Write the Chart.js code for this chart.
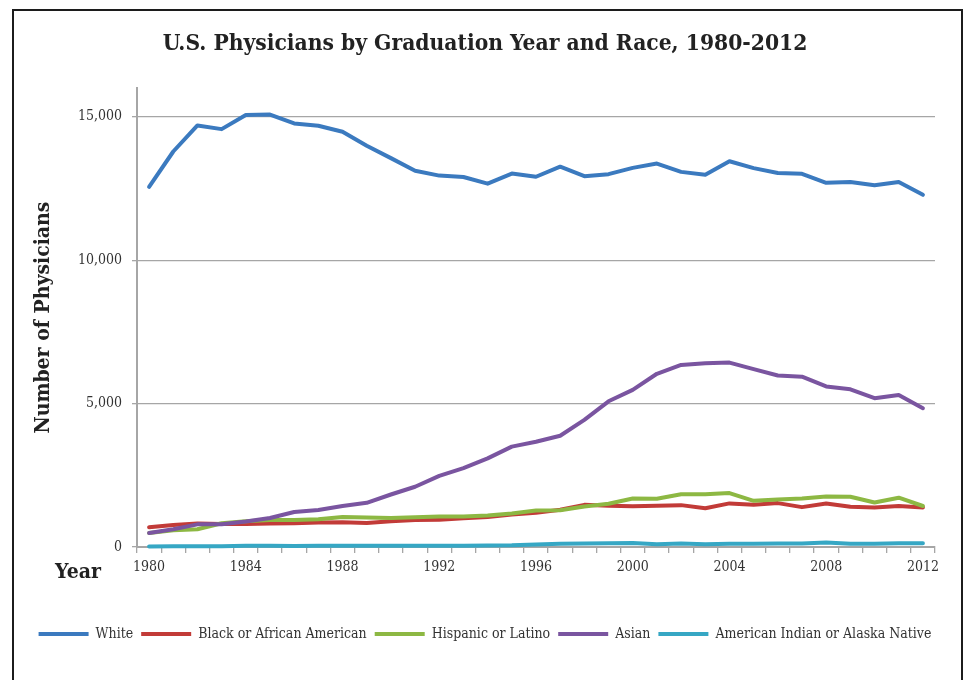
<!DOCTYPE html>
<html>
<head>
<meta charset="utf-8">
<script src="https://cdn.jsdelivr.net/npm/chart.js@4.4.0/dist/chart.umd.min.js"></script>
<style>
html,body{margin:0;padding:0;background:#fff;}
#wrap{position:relative;width:964px;height:680px;overflow:hidden;background:#fff;}
#frame{position:absolute;left:12px;top:9px;width:947px;height:720px;border:2px solid #1c1c1c;pointer-events:none;}
canvas{position:absolute;left:0;top:0;}
</style>
</head>
<body>
<div id="wrap"><canvas id="c" style="width:964px;height:680px"></canvas><div id="frame"></div></div>
<script>
const years = [1980,1981,1982,1983,1984,1985,1986,1987,1988,1989,1990,1991,1992,1993,1994,1995,1996,1997,1998,1999,2000,2001,2002,2003,2004,2005,2006,2007,2008,2009,2010,2011,2012];
const seriesNames = ['White','Black or African American','Hispanic or Latino','Asian','American Indian or Alaska Native'];
const white    = [12560,13790,14700,14570,15060,15080,14770,14690,14480,13990,13560,13120,12950,12900,12670,13020,12910,13260,12930,13000,13220,13370,13080,12980,13450,13210,13040,13010,12700,12730,12610,12730,12280];
const black    = [690,770,820,800,800,820,830,850,860,840,900,940,950,1000,1050,1130,1190,1300,1470,1440,1420,1440,1460,1350,1520,1470,1530,1390,1520,1400,1380,1430,1380];
const hispanic = [490,580,620,830,900,940,940,970,1050,1030,1010,1040,1060,1060,1100,1170,1270,1280,1410,1510,1690,1680,1840,1840,1880,1610,1660,1690,1760,1750,1550,1720,1430];
const asian    = [490,620,790,790,890,1010,1220,1290,1430,1540,1830,2100,2480,2750,3090,3500,3670,3880,4430,5080,5480,6040,6350,6410,6430,6200,5980,5940,5600,5500,5190,5300,4840];
const aian     = [20,30,30,30,40,40,35,40,40,40,40,40,45,45,50,60,90,110,120,130,140,100,120,100,110,110,120,120,160,110,110,130,130];
const yTicks = [0,5000,10000,15000];
const colors = ['#3b7abf','#c23b38','#8db843','#7a55a0','#36a7c4'];

const FONT = '"DejaVu Serif Condensed", "Liberation Serif", serif';
const GRID = '#a6a6a6';

const yearLabel = {
  id: 'yearLabel',
  afterDraw(chart) {
    const {ctx, chartArea} = chart;
    ctx.save();
    ctx.font = 'bold 21px ' + FONT;
    ctx.fillStyle = '#222';
    ctx.textAlign = 'left';
    ctx.textBaseline = 'middle';
    ctx.fillText('Year', chartArea.left - 82, chartArea.bottom + 26);
    ctx.restore();
  }
};

const allSeries = [white, black, hispanic, asian, aian];
const datasets = allSeries.map((d, i) => ({
  label: seriesNames[i],
  data: d,
  borderColor: colors[i],
  backgroundColor: colors[i],
  borderWidth: 4,
  borderCapStyle: 'round',
  borderJoinStyle: 'round',
  pointRadius: 0,
  pointHoverRadius: 0,
  tension: 0,
  fill: false,
  clip: false,
  order: allSeries.length - i
}));

new Chart(document.getElementById('c'), {
  type: 'line',
  data: { labels: years.map(String), datasets },
  options: {
    responsive: false,
    animation: false,
    devicePixelRatio: 1,
    layout: { padding: { left: 6, right: 0, top: 0, bottom: 29 } },
    plugins: {
      title: {
        display: true,
        text: 'U.S. Physicians by Graduation Year and Race, 1980-2012',
        color: '#222',
        font: { family: FONT, size: 22.6, weight: 'bold' },
        padding: { top: 31, bottom: 30 }
      },
      legend: {
        position: 'bottom',
        labels: {
          usePointStyle: true,
          pointStyle: 'line',
          pointStyleWidth: 50,
          boxHeight: 14,
          color: '#333',
          font: { family: FONT, size: 14 },
          padding: 8,
          sort: (a, b) => a.datasetIndex - b.datasetIndex
        }
      },
      tooltip: { enabled: false }
    },
    scales: {
      x: {
        offset: true,
        grid: { drawOnChartArea: false, offset: true, tickLength: 6, color: GRID, lineWidth: 1.3 },
        border: { color: GRID, width: 2 },
        ticks: {
          autoSkip: false, maxRotation: 0, minRotation: 0, padding: 6,
          color: '#333', font: { family: FONT, size: 14 },
          callback: (v, i) => ((years[i] - 1980) % 4 === 0 ? String(years[i]) : '')
        },
        afterFit: s => { s.height = 72; }
      },
      y: {
        min: 0, max: 16000,
        ticks: {
          stepSize: 5000, padding: 10, color: '#333', font: { family: FONT, size: 14 },
          callback: v => v.toLocaleString('en-US')
        },
        afterBuildTicks: s => { s.ticks = yTicks.map(v => ({ value: v })); },
        grid: { color: GRID, lineWidth: 1.3, tickLength: 5 },
        border: { color: GRID, width: 2 },
        title: {
          display: true,
          text: 'Number of Physicians',
          color: '#222',
          font: { family: FONT, size: 21, weight: 'bold' },
          padding: { top: 25, bottom: 0 }
        },
        afterFit: s => { s.width = 131; }
      },
      y2: {
        position: 'right',
        display: true,
        grid: { display: false },
        border: { display: false },
        ticks: { display: false },
        afterFit: s => { s.width = 29; }
      }
    }
  },
  plugins: [yearLabel]
});
</script>
</body>
</html>
